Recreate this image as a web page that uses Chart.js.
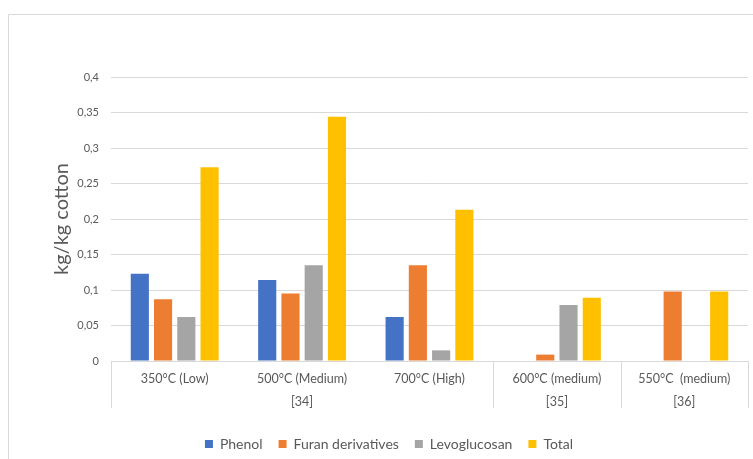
<!DOCTYPE html>
<html>
<head>
<meta charset="utf-8">
<script src="https://cdn.jsdelivr.net/npm/chart.js@4/dist/chart.umd.min.js"></script>
<style>
  html, body { margin: 0; padding: 0; background: #ffffff; }
  #wrap { width: 753px; height: 459px; position: relative; }
</style>
</head>
<body>
<div id="wrap"><canvas id="c" width="753" height="459"></canvas></div>
<script>
// ---- data ----
const categories = ['350°C (Low)', '500°C (Medium)', '700°C (High)', '600°C (medium)', '550°C  (medium)'];
const groupLabels = ['[34]', '[35]', '[36]'];
const groupSpans = [3, 1, 1];
const phenol = [0.123, 0.114, 0.062, null, null];
const furan = [0.087, 0.095, 0.135, 0.009, 0.098];
const levoglucosan = [0.062, 0.135, 0.015, 0.079, null];
const total = [0.273, 0.344, 0.213, 0.089, 0.098];
const yTickLabels = ['0', '0,05', '0,1', '0,15', '0,2', '0,25', '0,3', '0,35', '0,4'];
const seriesNames = ['Phenol', 'Furan derivatives', 'Levoglucosan', 'Total'];
const yTitle = 'kg/kg cotton';

const FONT = 'Lato';
const TEXT = '#595959';
const LINE = '#D9D9D9';

const boxPlugin = {
  id: 'boxPlugin',
  beforeDraw(chart) {
    // Excel places the legend slightly right of centre
    if (chart.legend && !chart.legend._shifted) {
      chart.legend.left += 15;
      chart.legend.right += 15;
      chart.legend._shifted = true;
    }
  },
  afterDraw(chart) {
    const { ctx, chartArea: a } = chart;
    const x = chart.scales.x;
    ctx.save();
    ctx.strokeStyle = LINE;
    ctx.lineWidth = 1;
    // outer chart border
    ctx.beginPath();
    ctx.moveTo(8.5, 459);
    ctx.lineTo(8.5, 14.5);
    ctx.lineTo(753, 14.5);
    ctx.stroke();
    // category box lines and group labels
    const half = (x.getPixelForValue(1) - x.getPixelForValue(0)) / 2;
    const edges = [x.getPixelForValue(0) - half];
    let idx = 0;
    groupSpans.forEach(s => { idx += s; edges.push(x.getPixelForValue(idx - 1) + half); });
    const boxBottom = a.bottom + 47;
    ctx.beginPath();
    edges.forEach(e => {
      const px = Math.round(e) + 0.5;
      ctx.moveTo(px, a.bottom);
      ctx.lineTo(px, boxBottom);
    });
    ctx.stroke();
    ctx.fillStyle = TEXT;
    ctx.font = '12.5px ' + FONT;
    ctx.textAlign = 'center';
    ctx.textBaseline = 'middle';
    groupLabels.forEach((g, i) => {
      ctx.fillText(g, (edges[i] + edges[i + 1]) / 2, a.bottom + 41);
    });
    ctx.restore();
  }
};

new Chart(document.getElementById('c'), {
  type: 'bar',
  data: {
    labels: categories,
    datasets: [
      { label: seriesNames[0], data: phenol, backgroundColor: '#4472C4' },
      { label: seriesNames[1], data: furan, backgroundColor: '#ED7D31' },
      { label: seriesNames[2], data: levoglucosan, backgroundColor: '#A5A5A5' },
      { label: seriesNames[3], data: total, backgroundColor: '#FFC000' }
    ]
  },
  options: {
    responsive: false,
    animation: false,
    events: [],
    layout: { padding: { left: 0, right: 5, top: 77, bottom: -2 } },
    datasets: { bar: { categoryPercentage: 0.73, barPercentage: 0.78 } },
    scales: {
      x: {
        grid: { display: false, drawTicks: false },
        border: { display: true, color: LINE },
        ticks: { color: TEXT, font: { family: FONT, size: 12.5 }, padding: 10, maxRotation: 0, autoSkip: false },
        afterFit(scale) { scale.height = 60; }
      },
      y: {
        min: 0, max: 0.4,
        grid: { color: LINE, drawTicks: false },
        border: { display: false },
        ticks: {
          stepSize: 0.05,
          color: TEXT,
          font: { family: FONT, size: 11 },
          padding: 12,
          callback: (v, i) => yTickLabels[i]
        },
        title: {
          display: true, text: yTitle, color: TEXT,
          font: { family: FONT, size: 20 },
          padding: { top: 50, bottom: 0 }
        },
        afterFit(scale) { scale.width = 111; }
      }
    },
    plugins: {
      legend: {
        position: 'bottom',
        labels: { boxWidth: 8, boxHeight: 8, padding: 16, color: TEXT, font: { family: FONT, size: 14 } }
      },
      tooltip: { enabled: false }
    }
  },
  plugins: [boxPlugin]
});
</script>
</body>
</html>
